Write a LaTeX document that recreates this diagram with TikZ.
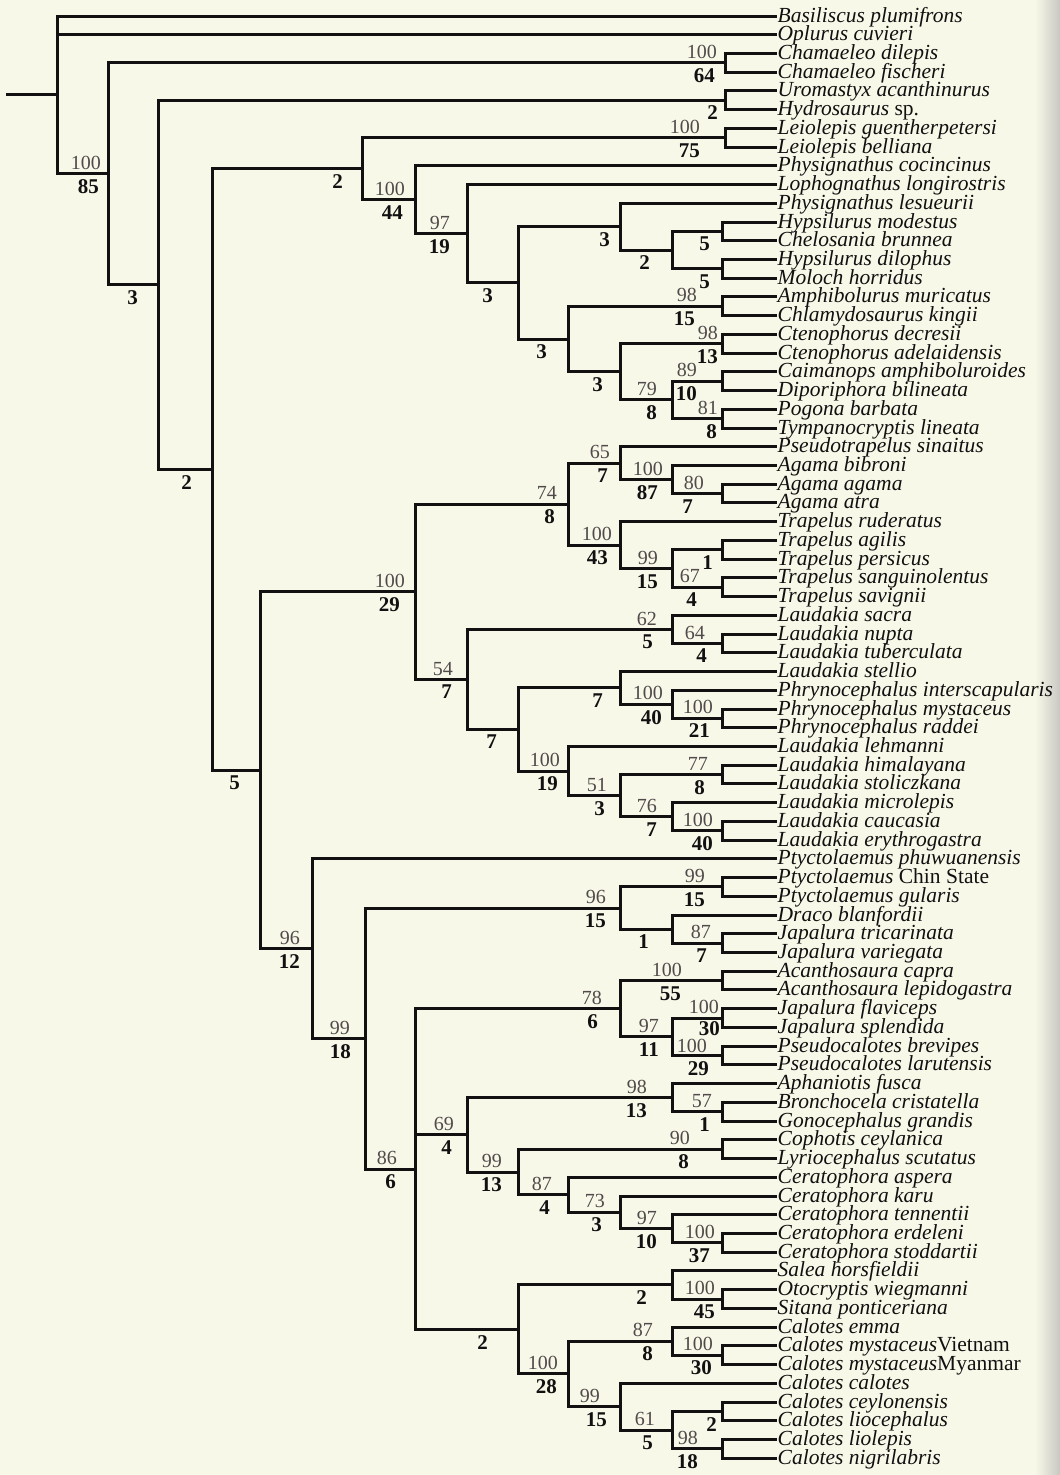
\documentclass[tikz,border=0pt]{standalone}
\usepackage{fontspec}
\setmainfont{Liberation Serif}
\usetikzlibrary{calc}
\definecolor{bgc}{RGB}{248,248,233}
\definecolor{shadec}{RGB}{200,200,194}
\definecolor{ink}{RGB}{18,16,16}
\definecolor{labg}{RGB}{80,74,74}
% #1 name, #2 x (px), #3 first child, #4 last child
\newcommand\mkclade[4]{%
  \path let \p1=($(#3)!0.5!(#4)$) in coordinate (#1) at (#2pt,\y1);
  \draw[br] (#1 |- #3) -- (#1 |- #4);
  \draw[br] (#1 |- #3) -- (#3);
  \draw[br] (#1 |- #4) -- (#4);}
% #1 node, #2 upper label, #3 lower label, #4 #5 offsets to the left
\newcommand\boot[5]{%
  \path let \p1=(#1) in
    node[toplab,anchor=south east] (#1u) at (\x1-#4pt,\y1+4pt) {#2}
    node[botlab,anchor=north east] (#1l) at (\x1-#5pt,\y1-5.5pt) {#3};}
% same with vertical offsets #6 (upper) #7 (lower)
\newcommand\bootv[7]{%
  \path let \p1=(#1) in
    node[toplab,anchor=south east] (#1u) at (\x1-#4pt,\y1+#6pt) {#2}
    node[botlab,anchor=north east] (#1l) at (\x1-#5pt,\y1-#7pt) {#3};}
\newcommand\lowlab[3]{%
  \path let \p1=(#1) in
    node[botlab,anchor=north east] (#1l) at (\x1-#3pt,\y1-5.5pt) {#2};}
\begin{document}
\begin{tikzpicture}[x=1pt,y=-1pt,
  br/.style={draw=ink,line width=3pt,line cap=rect},
  tax/.style={font=\fontsize{21.5}{22}\selectfont\itshape,anchor=base west,inner sep=0pt,xshift=2.5pt,yshift=-6pt,text=ink},
  toplab/.style={font=\fontsize{20}{20}\selectfont,text=labg,inner sep=0pt},
  botlab/.style={font=\fontsize{21}{21}\selectfont\bfseries,text=ink,inner sep=0pt}]
\fill[bgc] (0,0) rectangle (1060,1475);
\shade[left color=bgc,right color=shadec] (1035,0) rectangle (1060,1475);
\useasboundingbox (0,0) rectangle (1060,1475);

\foreach \i/\nm in {1/Basiliscus plumifrons,2/Oplurus cuvieri,3/Chamaeleo dilepis,4/Chamaeleo fischeri,
 5/Uromastyx acanthinurus,6/Hydrosaurus \textup{sp.},7/Leiolepis guentherpetersi,8/Leiolepis belliana,
 9/Physignathus cocincinus,10/Lophognathus longirostris,11/Physignathus lesueurii,12/Hypsilurus modestus,
 13/Chelosania brunnea,14/Hypsilurus dilophus,15/Moloch horridus,16/Amphibolurus muricatus,
 17/Chlamydosaurus kingii,18/Ctenophorus decresii,19/Ctenophorus adelaidensis,20/Caimanops amphiboluroides,
 21/Diporiphora bilineata,22/Pogona barbata,23/Tympanocryptis lineata,24/Pseudotrapelus sinaitus,
 25/Agama bibroni,26/Agama agama,27/Agama atra,28/Trapelus ruderatus,29/Trapelus agilis,
 30/Trapelus persicus,31/Trapelus sanguinolentus,32/Trapelus savignii,33/Laudakia sacra,
 34/Laudakia nupta,35/Laudakia tuberculata,36/Laudakia stellio,37/Phrynocephalus interscapularis,
 38/Phrynocephalus mystaceus,39/Phrynocephalus raddei,40/Laudakia lehmanni,41/Laudakia himalayana,
 42/Laudakia stoliczkana,43/Laudakia microlepis,44/Laudakia caucasia,45/Laudakia erythrogastra,
 46/Ptyctolaemus phuwuanensis,47/Ptyctolaemus \textup{Chin State},48/Ptyctolaemus gularis,
 49/Draco blanfordii,50/Japalura tricarinata,51/Japalura variegata,52/Acanthosaura capra,
 53/Acanthosaura lepidogastra,54/Japalura flaviceps,55/Japalura splendida,56/Pseudocalotes brevipes,
 57/Pseudocalotes larutensis,58/Aphaniotis fusca,59/Bronchocela cristatella,60/Gonocephalus grandis,
 61/Cophotis ceylanica,62/Lyriocephalus scutatus,63/Ceratophora aspera,64/Ceratophora karu,
 65/Ceratophora tennentii,66/Ceratophora erdeleni,67/Ceratophora stoddartii,68/Salea horsfieldii,
 69/Otocryptis wiegmanni,70/Sitana ponticeriana,71/Calotes emma,72/Calotes mystaceus\textup{Vietnam},
 73/Calotes mystaceus\textup{Myanmar},74/Calotes calotes,75/Calotes ceylonensis,76/Calotes liocephalus,
 77/Calotes liolepis,78/Calotes nigrilabris}{
  \coordinate (t\i) at (775,{16+(\i-1)*18.73});
  \node[tax] (s\i) at (t\i) {\nm};
}

% --- upper part
\mkclade{C1}{725}{t3}{t4}   \boot{C1}{100}{64}{8}{10}
\mkclade{U}{725}{t5}{t6}    \lowlab{U}{2}{7}
\mkclade{L}{725}{t7}{t8}    \boot{L}{100}{75}{25}{25}
\mkclade{G1b}{722}{t12}{t13} \lowlab{G1b}{5}{12}
\mkclade{G1c}{722}{t14}{t15} \lowlab{G1c}{5}{12}
\mkclade{G1a}{672}{G1b}{G1c} \lowlab{G1a}{2}{22}
\mkclade{G1}{620}{t11}{G1a}  \lowlab{G1}{3}{10}
\mkclade{G2a}{722}{t16}{t17} \boot{G2a}{98}{15}{25}{27}
\mkclade{G2c}{722}{t18}{t19} \boot{G2c}{98}{13}{4}{4}
\mkclade{G2e}{722}{t20}{t21} \boot{G2e}{89}{10}{25}{25}
\mkclade{G2f}{722}{t22}{t23} \boot{G2f}{81}{8}{4}{5}
\mkclade{G2d}{672}{G2e}{G2f} \boot{G2d}{79}{8}{15}{15}
\mkclade{G2b}{620}{G2c}{G2d} \lowlab{G2b}{3}{17}
\mkclade{G2}{568}{G2a}{G2b}  \lowlab{G2}{3}{21}
\mkclade{G}{518}{G1}{G2}     \lowlab{G}{3}{25}
\mkclade{F}{467}{t10}{G}     \boot{F}{97}{19}{17}{17}
\mkclade{E}{415}{t9}{F}      \boot{E}{100}{44}{10}{12}
\mkclade{D}{362}{L}{E}       \lowlab{D}{2}{19}

% --- Agama / Trapelus / Laudakia
\mkclade{I1d}{722}{t26}{t27} \boot{I1d}{80}{7}{18}{29}
\mkclade{I1c}{672}{t25}{I1d} \boot{I1c}{100}{87}{9}{14}
\mkclade{I1a}{620}{t24}{I1c} \boot{I1a}{65}{7}{10}{12}
\mkclade{I1f}{722}{t29}{t30} \lowlab{I1f}{1}{9}
\mkclade{I1g}{722}{t31}{t32} \boot{I1g}{67}{4}{22}{25}
\mkclade{I1e}{672}{I1f}{I1g} \boot{I1e}{99}{15}{14}{14}
\mkclade{I1b}{620}{t28}{I1e} \boot{I1b}{100}{43}{8}{12}
\mkclade{I1}{568}{I1a}{I1b}  \boot{I1}{74}{8}{11}{13}
\mkclade{I2c}{722}{t34}{t35} \boot{I2c}{64}{4}{17}{15}
\mkclade{I2a}{672}{t33}{I2c} \boot{I2a}{62}{5}{15}{19}
\mkclade{I2g}{722}{t38}{t39} \boot{I2g}{100}{21}{9}{12}
\mkclade{I2f}{672}{t37}{I2g} \boot{I2f}{100}{40}{9}{10}
\mkclade{I2d}{620}{t36}{I2f} \lowlab{I2d}{7}{17}
\mkclade{I2i}{722}{t41}{t42} \boot{I2i}{77}{8}{14}{17}
\mkclade{I2k}{722}{t44}{t45} \boot{I2k}{100}{40}{9}{9}
\mkclade{I2j}{672}{t43}{I2k} \boot{I2j}{76}{7}{15}{15}
\mkclade{I2h}{620}{I2i}{I2j} \boot{I2h}{51}{3}{13}{15}
\mkclade{I2e}{568}{t40}{I2h} \boot{I2e}{100}{19}{8}{10}
\mkclade{I2b}{518}{I2d}{I2e} \lowlab{I2b}{7}{21}
\mkclade{I2}{467}{I2a}{I2b}  \boot{I2}{54}{7}{14}{15}
\mkclade{I}{415}{I1}{I2}     \boot{I}{100}{29}{10}{15}

% --- Draconinae
\mkclade{K1a}{722}{t47}{t48} \boot{K1a}{99}{15}{17}{17}
\mkclade{K1c}{722}{t50}{t51} \boot{K1c}{87}{7}{11}{15}
\mkclade{K1b}{672}{t49}{K1c} \lowlab{K1b}{1}{23}
\mkclade{K1}{620}{K1a}{K1b}  \boot{K1}{96}{15}{14}{14}
\mkclade{K3a}{722}{t52}{t53} \boot{K3a}{100}{55}{40}{41}
\mkclade{K3c}{722}{t54}{t55} \bootv{K3c}{100}{30}{3}{2}{4}{3}
\mkclade{K3d}{722}{t56}{t57} \bootv{K3d}{100}{29}{15}{13}{2.5}{5.5}
\mkclade{K3b}{672}{K3c}{K3d} \boot{K3b}{97}{11}{13}{13}
\mkclade{K3}{620}{K3a}{K3b}  \boot{K3}{78}{6}{18}{22}
\mkclade{K4c}{722}{t59}{t60} \boot{K4c}{57}{1}{10}{12}
\mkclade{K4a}{672}{t58}{K4c} \boot{K4a}{98}{13}{25}{25}
\mkclade{K4d}{722}{t61}{t62} \boot{K4d}{90}{8}{32}{33}
\mkclade{K4h}{722}{t66}{t67} \boot{K4h}{100}{37}{7}{12}
\mkclade{K4g}{672}{t65}{K4h} \boot{K4g}{97}{10}{15}{15}
\mkclade{K4f}{620}{t64}{K4g} \boot{K4f}{73}{3}{15}{18}
\mkclade{K4e}{568}{t63}{K4f} \boot{K4e}{87}{4}{16}{18}
\mkclade{K4b}{518}{K4d}{K4e} \boot{K4b}{99}{13}{16}{16}
\mkclade{K4}{467}{K4a}{K4b}  \boot{K4}{69}{4}{13}{15}
\mkclade{K5c}{722}{t69}{t70} \boot{K5c}{100}{45}{7}{7}
\mkclade{K5a}{672}{t68}{K5c} \lowlab{K5a}{2}{25}
\mkclade{K5f}{722}{t72}{t73} \boot{K5f}{100}{30}{9}{10}
\mkclade{K5d}{672}{t71}{K5f} \boot{K5d}{87}{8}{19}{19}
\mkclade{K5h}{722}{t75}{t76} \lowlab{K5h}{2}{5}
\mkclade{K5i}{722}{t77}{t78} \boot{K5i}{98}{18}{24}{24}
\mkclade{K5g}{672}{K5h}{K5i} \boot{K5g}{61}{5}{17}{19}
\mkclade{K5e}{620}{t74}{K5g} \boot{K5e}{99}{15}{20}{13}
\mkclade{K5b}{568}{K5d}{K5e} \boot{K5b}{100}{28}{10}{11}
\mkclade{K5}{518}{K5a}{K5b}  \lowlab{K5}{2}{30}
\mkclade{K2}{415}{K3}{K5}    \boot{K2}{86}{6}{18}{19}
\draw[br] (K2 |- K4) -- (K4);
\mkclade{K}{365}{K1}{K2}     \boot{K}{99}{18}{15}{14}
\mkclade{J}{312}{t46}{K}     \boot{J}{96}{12}{12}{12}

% --- backbone
\mkclade{H}{260}{I}{J}       \lowlab{H}{5}{20}
\mkclade{Dp}{212}{D}{H}      \lowlab{Dp}{2}{20}
\mkclade{B}{158}{U}{Dp}      \lowlab{B}{3}{20}
\mkclade{A}{108}{C1}{B}      \boot{A}{100}{85}{7}{9}
\path let \p1=($(t1)!0.5!(A)$) in coordinate (R) at (57pt,\y1) coordinate (stem) at (7pt,\y1);
\draw[br] (R |- t1) -- (R |- A);
\draw[br] (R |- t1) -- (t1);
\draw[br] (R |- t2) -- (t2);
\draw[br] (R |- A) -- (A);
\draw[br] (stem) -- (R);
\end{tikzpicture}
\end{document}
